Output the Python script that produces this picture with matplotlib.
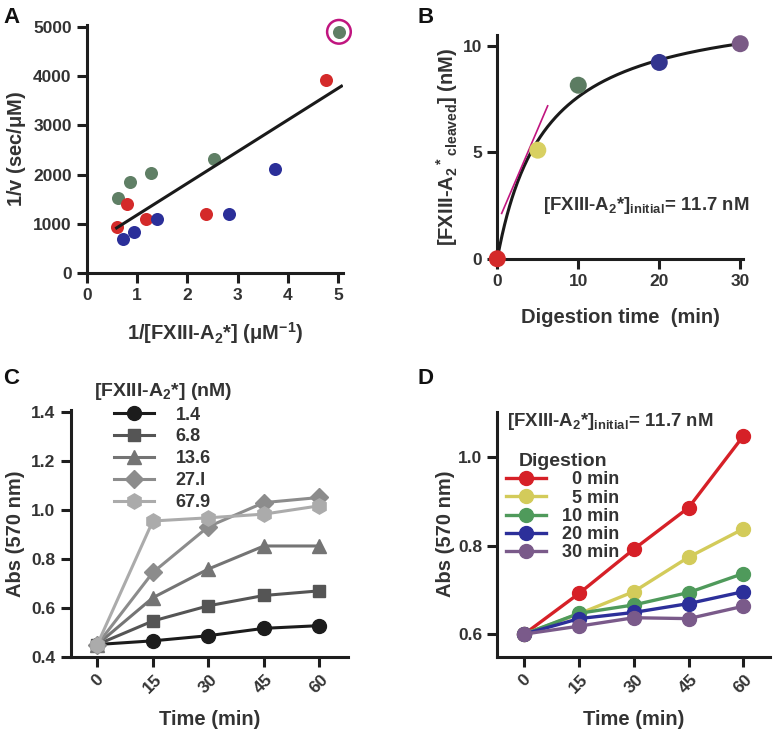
import numpy as np
import matplotlib
matplotlib.use("Agg")
import matplotlib.pyplot as plt

plt.rcParams['font.family'] = ['Liberation Sans', 'DejaVu Sans']
plt.rcParams['font.weight'] = 'bold'
plt.rcParams['mathtext.fontset'] = 'custom'
plt.rcParams['mathtext.rm'] = 'Liberation Sans:bold'
plt.rcParams['mathtext.it'] = 'Liberation Sans:bold'
plt.rcParams['mathtext.bf'] = 'Liberation Sans:bold'
plt.rcParams['mathtext.default'] = 'regular'

textColor = '#333333'
axisColor = '#1e1e1e'
labelFont = {'size': 14.5, 'weight': 'bold', 'color': textColor}

# ---- panel A: double reciprocal plot
a_green_x = [0.62, 0.85, 1.27, 2.53, 5.02]
a_green_y = [1530, 1850, 2030, 2310, 4900]
a_red_x = [0.59, 0.79, 1.18, 2.38, 4.76]
a_red_y = [935, 1395, 1090, 1205, 3930]
a_blue_x = [0.72, 0.93, 1.40, 2.82, 3.75]
a_blue_y = [700, 833, 1104, 1206, 2120]
a_fit_slope, a_fit_icpt = 643, 536
a_fit_range = [0.59, 5.07]

# ---- panel B: cleavage time course
b_time = [0, 5, 10, 20, 30]
b_cleaved = [0, 5.1, 8.15, 9.22, 10.1]
b_colors = ['#d42a2a', '#d8d062', '#5c7c62', '#33358f', '#7a5a86']
b_bmax, b_km = 12.09, 5.9
b_tangent_x = [0.54, 6.22]
b_tangent_y = [2.13, 7.18]

# ---- panel C: activity vs concentration
c_time = [0, 15, 30, 45, 60]
c_labels = ['1.4', '6.8', '13.6', '27.I', '67.9']
c_values = [
    [0.45, 0.465, 0.486, 0.516, 0.527],
    [0.45, 0.546, 0.608, 0.650, 0.669],
    [0.45, 0.641, 0.758, 0.852, 0.852],
    [0.45, 0.744, 0.931, 1.029, 1.050],
    [0.45, 0.954, 0.967, 0.982, 1.016],
]
c_colors = ['#1c1c1c', '#555555', '#747474', '#8c8c8c', '#ababab']
c_markers = ['o', 's', '^', 'D', 'h']

# ---- panel D: activity after digestion
d_time = [0, 15, 30, 45, 60]
d_labels = ['  0 min', '  5 min', '10 min', '20 min', '30 min']
d_values = [
    [0.60, 0.692, 0.792, 0.886, 1.048],
    [0.60, 0.646, 0.696, 0.774, 0.838],
    [0.60, 0.647, 0.666, 0.694, 0.737],
    [0.60, 0.635, 0.649, 0.669, 0.696],
    [0.60, 0.618, 0.637, 0.635, 0.663],
]
d_colors = ['#d62027', '#d3cb5a', '#4f9a5b', '#2c2f9a', '#7a5a8a']


def style(ax):
    for s in ['top', 'right']:
        ax.spines[s].set_visible(False)
    for s in ['left', 'bottom']:
        ax.spines[s].set_linewidth(2.2)
        ax.spines[s].set_color(axisColor)
    ax.tick_params(width=2.2, length=7, color=axisColor, pad=4,
                   labelsize=12.5, labelcolor=textColor)
    for t in ax.get_xticklabels() + ax.get_yticklabels():
        t.set_fontweight('bold')


def legend_text(leg, title_size):
    leg.get_title().set_fontsize(title_size)
    leg.get_title().set_fontweight('bold')
    leg.get_title().set_color(textColor)
    for t in leg.get_texts():
        t.set_color(textColor)


fig = plt.figure(figsize=(7.74, 7.33), dpi=100)

# A
ax = fig.add_axes([0.1124, 0.6276, 0.3307, 0.3384])
ms = 88
ax.scatter(a_green_x, a_green_y, s=ms, color='#5f7f65', zorder=3, linewidths=0, clip_on=False)
ax.scatter(a_red_x, a_red_y, s=ms, color='#d42a2a', zorder=3, linewidths=0)
ax.scatter(a_blue_x, a_blue_y, s=ms, color='#2b2f99', zorder=3, linewidths=0)
ax.scatter(a_green_x[-1:], a_green_y[-1:], s=290, facecolors='none',
           edgecolors='#c0157f', linewidths=1.8, zorder=4, clip_on=False)
fx = np.array(a_fit_range)
ax.plot(fx, a_fit_slope * fx + a_fit_icpt, color='#1a1a1a', lw=2.2, zorder=4)
ax.set_xlim(0, 5.1)
ax.set_ylim(0, 5040)
ax.set_xticks([0, 1, 2, 3, 4, 5])
ax.set_yticks([0, 1000, 2000, 3000, 4000, 5000])
style(ax)
ax.set_xlabel(r'1/[FXIII-A$_2$*] ($\mu$M$^{-1}$)', labelpad=12, **labelFont)
ax.set_ylabel(r'1/v (sec/$\mu$M)', labelpad=4, **labelFont)

# B
ax = fig.add_axes([0.6425, 0.647, 0.3170, 0.305])
tt = np.linspace(0, 30, 300)
ax.plot(tt, b_bmax * tt / (b_km + tt), color='#1a1a1a', lw=2.2, zorder=3)
ax.plot(b_tangent_x, b_tangent_y, color='#c0157f', lw=1.2, zorder=4)
ax.scatter(b_time, b_cleaved, s=150, c=b_colors, zorder=5, linewidths=0,
           clip_on=False)
ax.set_xlim(0, 30.3)
ax.set_ylim(0, 10.5)
ax.set_xticks([0, 10, 20, 30])
ax.set_yticks([0, 5, 10])
style(ax)
ax.text(5.7, 2.5, r'[FXIII-A$_2$*]$_{initial}$= 11.7 nM', fontsize=13.4,
        fontweight='bold', color=textColor, va='center')
ax.set_xlabel('Digestion time  (min)', labelpad=14, **labelFont)
ax.set_ylabel(r'[FXIII-A$_2$$^*$$_{cleaved}$] (nM)', labelpad=2, **labelFont)

# C
ax = fig.add_axes([0.0913, 0.104, 0.3587, 0.3367])
for vals, col, mk, lab in zip(c_values, c_colors, c_markers, c_labels):
    msz = 11 if mk == 'h' else (9 if mk in ('s', 'D') else 10)
    ax.plot(c_time, vals, color=col, marker=mk, ms=msz, lw=2.2, label=lab,
            clip_on=False)
ax.set_xlim(-7.2, 67.8)
ax.set_ylim(0.4, 1.407)
ax.set_xticks(c_time)
ax.set_yticks([0.4, 0.6, 0.8, 1.0, 1.2, 1.4])
ax.set_yticklabels(['0.4', '0.6', '0.8', '1.0', '1.2', '1.4'])
style(ax)
for t in ax.get_xticklabels():
    t.set_rotation(45)
    t.set_ha('center')
ax.set_xlabel('Time (min)', labelpad=10, **labelFont)
ax.set_ylabel('Abs (570 nm)', labelpad=4, **labelFont)
leg = ax.legend(loc='upper left', bbox_to_anchor=(0.05, 1.155), frameon=False,
                title=r'[FXIII-A$_2$*] (nM)', handlelength=2.2,
                handletextpad=1.2, labelspacing=0.27, borderpad=0,
                prop={'size': 13, 'weight': 'bold'})
legend_text(leg, 14)

# D
ax = fig.add_axes([0.6425, 0.104, 0.3523, 0.3343])
for vals, col, lab in zip(d_values, d_colors, d_labels):
    ax.plot(d_time, vals, color=col, marker='o', ms=10, lw=2.4, label=lab,
            clip_on=False)
ax.set_xlim(-7.4, 67.3)
ax.set_ylim(0.5487, 1.103)
ax.set_xticks(d_time)
ax.set_yticks([0.6, 0.8, 1.0])
ax.set_yticklabels(['0.6', '0.8', '1.0'])
style(ax)
for t in ax.get_xticklabels():
    t.set_rotation(45)
    t.set_ha('center')
ax.text(-4.8, 1.081, r'[FXIII-A$_2$*]$_{initial}$= 11.7 nM', fontsize=13.4,
        fontweight='bold', color=textColor, va='center')
ax.set_xlabel('Time (min)', labelpad=10, **labelFont)
ax.set_ylabel('Abs (570 nm)', labelpad=2, **labelFont)
leg = ax.legend(loc='upper left', bbox_to_anchor=(0.0, 0.868), frameon=False,
                title='Digestion', handlelength=2.2, handletextpad=0.9,
                labelspacing=0.07, borderpad=0,
                prop={'size': 13, 'weight': 'bold'})
legend_text(leg, 14)

# panel letters
for lab, x, y in [('A', 0.004, 0.99), ('B', 0.54, 0.99),
                  ('C', 0.004, 0.498), ('D', 0.54, 0.498)]:
    fig.text(x, y, lab, fontsize=16, fontweight='bold', color='#111111',
             va='top', ha='left')

fig.savefig('out.png', dpi=100)
